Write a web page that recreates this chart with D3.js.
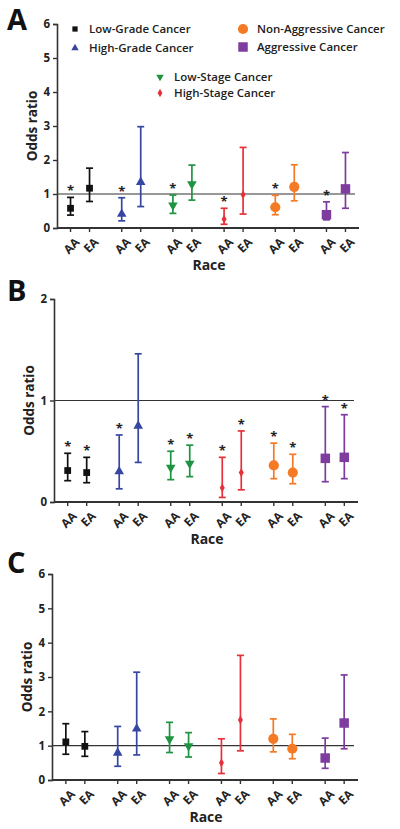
<!DOCTYPE html>
<html><head><meta charset="utf-8">
<script src="https://cdn.jsdelivr.net/npm/d3@7"></script>
<style>
html,body{margin:0;padding:0;background:#fff;}
svg{display:block;font-family:"Open Sans",sans-serif;}
</style></head>
<body><svg id="c" width="400" height="829"></svg>
<script>
// ---- data ----
const groups = ["Low-Grade Cancer","High-Grade Cancer","Low-Stage Cancer","High-Stage Cancer","Non-Aggressive Cancer","Aggressive Cancer"];
const races = ["AA","EA"];

const orA   = [0.58,1.17, 0.41,1.35, 0.67,1.29, 0.26,0.98, 0.61,1.21, 0.39,1.15];
const lowA  = [0.38,0.78, 0.21,0.63, 0.43,0.82, 0.11,0.41, 0.39,0.80, 0.24,0.58];
const highA = [0.90,1.76, 0.89,2.98, 0.97,1.85, 0.58,2.37, 0.96,1.86, 0.77,2.22];
const sigA  = [1,0, 1,0, 1,0, 1,0, 1,0, 1,0];

const orB   = [0.31,0.29, 0.30,0.75, 0.34,0.38, 0.14,0.29, 0.36,0.29, 0.43,0.44];
const lowB  = [0.21,0.19, 0.13,0.39, 0.22,0.25, 0.045,0.12, 0.23,0.18, 0.20,0.23];
const highB = [0.48,0.44, 0.66,1.46, 0.50,0.56, 0.44,0.70, 0.58,0.47, 0.94,0.86];
const sigB  = [1,1, 1,0, 1,1, 1,1, 1,1, 1,1];

const orC   = [1.11,0.98, 0.79,1.49, 1.19,0.99, 0.50,1.75, 1.20,0.91, 0.64,1.66];
const lowC  = [0.75,0.69, 0.40,0.73, 0.80,0.67, 0.19,0.85, 0.82,0.62, 0.34,0.91];
const highC = [1.64,1.41, 1.56,3.14, 1.68,1.38, 1.20,3.63, 1.78,1.33, 1.22,3.06];
const sigC  = [0,0, 0,0, 0,0, 0,0, 0,0, 0,0];

const ticksA = [0,1,2,3,4,5,6];
const ticksB = [0,1,2];
const ticksC = [0,1,2,3,4,5,6];

// ---- styles ----
const colors = ["#111111","#3647a3","#1e9440","#e8303a","#f47a26","#7d3c9e"];
const symbols = [d3.symbolSquare, d3.symbolTriangle, d3.symbolTriangle, d3.symbolDiamond, d3.symbolCircle, d3.symbolSquare];
const symSizes = [46, 40, 40, 22, 82, 90];
const symRot = [0,0,180,0,0,0];

const svg = d3.select("#c");

function panel(cfg){
  const {letter, x0, x1, y0, y1, ymax, ticks, or, lo, hi, sig, letterY, raceY} = cfg;
  const g = svg.append("g");
  const y = d3.scaleLinear().domain([0, ymax]).range([y0, y1]);
  const xg = d3.scalePoint().domain(groups).range([x0, x1]).padding(0.45);
  const xr = d3.scalePoint().domain(races).range([-9.5, 9.5]);
  const xpos = i => xg(groups[Math.floor(i/2)]) + xr(races[i%2]);

  // panel letter
  g.append("text").attr("x", 7).attr("y", letterY).text(letter)
    .attr("font-size", 29).attr("font-weight", 700).attr("fill", "#111");

  // y axis
  const ya = g.append("g").attr("transform", `translate(${x0},0)`)
    .call(d3.axisLeft(y).tickValues(ticks).tickFormat(d3.format("d")).tickSize(4).tickPadding(3));
  ya.select(".domain").attr("stroke", "#333").attr("stroke-width", 1.6);
  ya.selectAll(".tick line").attr("stroke", "#333").attr("stroke-width", 1.4);
  ya.selectAll(".tick text").attr("font-size", 11.5).attr("font-weight", 700).attr("fill", "#222")
    .attr("font-family", "'Open Sans',sans-serif");

  // x axis
  const idx = d3.range(or.length);
  const xa = g.append("g").attr("transform", `translate(0,${y0})`);
  xa.append("line").attr("x1", x0).attr("x2", x1).attr("y1", 0).attr("y2", 0)
    .attr("stroke", "#333").attr("stroke-width", 1.8);
  idx.forEach(i => {
    xa.append("line").attr("x1", xpos(i)).attr("x2", xpos(i)).attr("y1", 0).attr("y2", 4)
      .attr("stroke", "#333").attr("stroke-width", 1.4);
    xa.append("text").attr("transform", `translate(${xpos(i)+4},${9}) rotate(-45)`)
      .attr("text-anchor", "end").attr("dy", "0.7em")
      .attr("font-size", 12).attr("font-weight", 700).attr("fill", "#222")
      .text(races[i%2]);
  });

  // reference line at 1
  g.append("line").attr("x1", x0).attr("x2", x1 - 4).attr("y1", y(1)).attr("y2", y(1))
    .attr("stroke", "#333").attr("stroke-width", 1.2);

  // labels
  g.append("text").attr("transform", `translate(${x0-20},${(y0+y1)/2}) rotate(-90)`)
    .attr("text-anchor", "middle").attr("font-size", 13.5).attr("font-weight", 700).attr("fill", "#222")
    .text("Odds ratio");
  g.append("text").attr("x", (x0+x1)/2 + 1).attr("y", raceY).attr("text-anchor", "middle")
    .attr("font-size", 14).attr("font-weight", 700).attr("fill", "#222").text("Race");

  // error bars + markers
  idx.forEach(i => {
    const gi = Math.floor(i/2), c = colors[gi], x = xpos(i);
    const e = g.append("g");
    e.append("line").attr("x1", x).attr("x2", x).attr("y1", y(lo[i])).attr("y2", y(hi[i]))
      .attr("stroke", c).attr("stroke-width", 1.7);
    [lo[i], hi[i]].forEach(v => e.append("line").attr("x1", x-3.5).attr("x2", x+3.5)
      .attr("y1", y(v)).attr("y2", y(v)).attr("stroke", c).attr("stroke-width", 1.7));
    e.append("path").attr("d", d3.symbol().type(symbols[gi]).size(symSizes[gi])())
      .attr("transform", `translate(${x},${y(or[i])}) rotate(${symRot[gi]})`)
      .attr("fill", c);
    if (sig[i]) {
      g.append("text").attr("x", x).attr("y", y(hi[i]) - 2).attr("text-anchor", "middle")
        .attr("font-size", 13).attr("font-weight", 700).attr("fill", "#222").text("*");
    }
  });
  return {y};
}

panel({letter:"A", x0:57, x1:359, y0:228, y1:24, ymax:6, ticks:ticksA, or:orA, lo:lowA, hi:highA, sig:sigA, letterY:30, raceY:270});
panel({letter:"B", x0:54, x1:358, y0:502, y1:299, ymax:2, ticks:ticksB, or:orB, lo:lowB, hi:highB, sig:sigB, letterY:301, raceY:544});
panel({letter:"C", x0:52, x1:358, y0:780, y1:574, ymax:6, ticks:ticksC, or:orC, lo:lowC, hi:highC, sig:sigC, letterY:573, raceY:822});

// legend (panel A)
const legCols = [[0,1],[2,3],[4,5]];
const legX = [75, 160, 243];
const legY = [[29,48],[77,93],[29,47]];
legCols.forEach((col, ci) => {
  col.forEach((gi, ri) => {
    const lx = legX[ci], ly = legY[ci][ri];
    const sz = symSizes[gi] * (gi===0||gi===1||gi===2 ? 0.6 : (gi===3 ? 0.9 : 1.0));
    svg.append("path").attr("d", d3.symbol().type(symbols[gi]).size(sz)())
      .attr("transform", `translate(${lx},${ly}) rotate(${symRot[gi]})`).attr("fill", colors[gi]);
    svg.append("text").attr("x", lx + 14).attr("y", ly).attr("dy", "0.36em")
      .attr("font-size", 11.5).attr("font-weight", 600).attr("fill", "#222").text(groups[gi]);
  });
});
</script></body></html>
